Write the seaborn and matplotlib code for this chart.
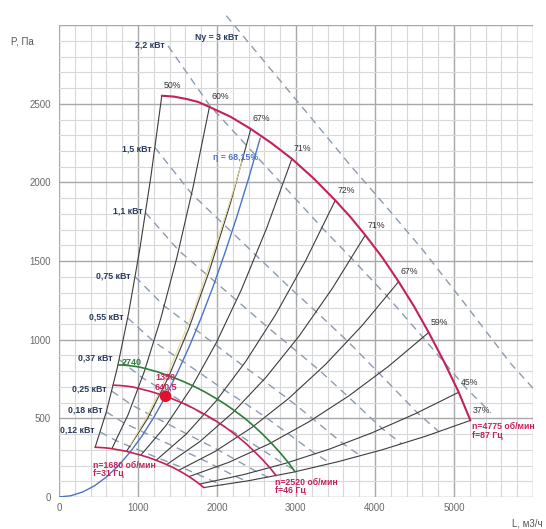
import matplotlib
matplotlib.use("Agg")
import matplotlib.pyplot as plt
import seaborn as sns

# ---------------- data ----------------
# max speed curve n=4775 rpm
q_max = [1302, 1450, 1618, 1760, 1905, 2170, 2429, 2690, 2949, 3225, 3498, 3690, 3878, 4095, 4300, 4495, 4681, 4875, 5061, 5209]
p_max = [2551, 2546, 2530, 2512, 2480, 2418, 2340, 2250, 2150, 2025, 1886, 1780, 1665, 1522, 1369, 1212, 1046, 860, 666, 487]
# min speed curve n=1680 rpm
q_min = [458, 510, 569, 619, 670, 763, 855, 946, 1037, 1135, 1231, 1298, 1364, 1441, 1513, 1581, 1647, 1715, 1780, 1833]
p_min = [316, 315, 313, 311, 307, 299, 290, 278, 266, 251, 233, 220, 206, 188, 169, 150, 129, 106, 82, 60]
# n=2520 rpm
q_2520 = [687, 765, 854, 929, 1005, 1145, 1282, 1420, 1556, 1702, 1846, 1947, 2047, 2161, 2269, 2372, 2470, 2573, 2671, 2749]
p_2520 = [711, 709, 705, 700, 691, 673, 652, 627, 599, 564, 525, 496, 464, 424, 381, 338, 291, 240, 185, 136]
# n=2740 rpm (green)
q_2740 = [747, 832, 928, 1010, 1093, 1245, 1394, 1544, 1692, 1851, 2007, 2117, 2225, 2350, 2467, 2579, 2686, 2797, 2904, 2989]
p_2740 = [840, 838, 833, 827, 817, 796, 770, 741, 708, 667, 621, 586, 548, 501, 451, 399, 344, 283, 219, 160]

# efficiency lines (from the n=1680 curve up to the n=4775 curve)
eff_labels = ["50%", "60%", "67%", "71%", "72%", "71%", "67%", "59%", "45%", "37%"]
eff_q = [
    [458, 599, 739, 880, 1021, 1161, 1302],
    [670, 876, 1082, 1288, 1493, 1699, 1905],
    [855, 1117, 1380, 1642, 1904, 2167, 2429],
    [1037, 1356, 1674, 1993, 2312, 2630, 2949],
    [1231, 1609, 1987, 2365, 2742, 3120, 3498],
    [1364, 1783, 2202, 2621, 3040, 3459, 3878],
    [1513, 1978, 2442, 2907, 3371, 3836, 4300],
    [1647, 2153, 2658, 3164, 3670, 4175, 4681],
    [1780, 2327, 2874, 3421, 3967, 4514, 5061],
    [1833, 2396, 2958, 3521, 4084, 4646, 5209],
]
eff_p = [
    [316, 540, 822, 1165, 1569, 2028, 2551],
    [307, 524, 800, 1133, 1523, 1973, 2480],
    [290, 495, 755, 1069, 1438, 1862, 2340],
    [266, 455, 693, 982, 1321, 1710, 2150],
    [234, 399, 609, 862, 1159, 1500, 1886],
    [206, 352, 537, 761, 1023, 1325, 1665],
    [169, 290, 442, 626, 841, 1089, 1369],
    [130, 221, 337, 478, 643, 832, 1046],
    [82, 141, 215, 304, 409, 530, 666],
    [60, 103, 157, 223, 299, 387, 487],
]

# system curve eta = 68,15 %
q_sys = [0, 150, 300, 450, 600, 750, 900, 1050, 1200, 1350, 1500, 1650, 1800, 1950, 2100, 2250, 2400, 2548]
p_sys = [0, 8, 32, 71, 127, 198, 285, 387, 506, 640, 791, 957, 1139, 1336, 1550, 1779, 2024, 2282]
# faint companion curve
q_sys2 = [900, 1090, 1280, 1490, 1700, 1880, 2050, 2190, 2319]
p_sys2 = [330, 490, 677, 920, 1180, 1440, 1700, 1920, 2133]

# power lines (dashed), crossing points with the efficiency lines
pw_labels = ["Ny = 3 кВт", "2,2 кВт", "1,5 кВт", "1,1 кВт", "0,75 кВт", "0,55 кВт",
             "0,37 кВт", "0,25 кВт", "0,18 кВт", "0,12 кВт"]
pw_label_q = [2269, 1343, 1179, 1065, 900, 811, 672, 608, 545, 456]
pw_label_p = [2924, 2873, 2215, 1816, 1405, 1146, 886, 684, 551, 424]
pw_q = [
    [2118, 2632, 3142, 3695, 4106, 4606, 5110, 5717, 6000],
    [1381, 1910, 2374, 2834, 3332, 3703, 4154, 4609, 5156, 5466],
    [1215, 1681, 2090, 2494, 2933, 3260, 3656, 4056, 4538, 4811],
    [1096, 1516, 1884, 2249, 2645, 2939, 3297, 3658, 4092, 4338],
    [964, 1334, 1659, 1979, 2328, 2587, 2902, 3220, 3602, 3818],
    [870, 1203, 1496, 1785, 2099, 2333, 2617, 2903, 3248, 3443],
    [762, 1054, 1311, 1564, 1839, 2044, 2293, 2544, 2846, 3017],
    [669, 925, 1150, 1373, 1614, 1794, 2012, 2232, 2498, 2647],
    [599, 829, 1031, 1230, 1447, 1608, 1803, 2001, 2239, 2373],
    [524, 724, 900, 1075, 1264, 1405, 1575, 1748, 1955, 2073],
]
pw_p = [
    [3060, 2749, 2441, 2105, 1867, 1571, 1247, 850, 692],
    [2868, 2488, 2235, 1984, 1711, 1518, 1277, 1014, 691, 536],
    [2222, 1927, 1731, 1537, 1326, 1176, 990, 785, 535, 415],
    [1807, 1567, 1408, 1250, 1078, 956, 805, 639, 435, 338],
    [1400, 1214, 1091, 969, 835, 741, 623, 495, 337, 262],
    [1138, 987, 887, 788, 679, 603, 507, 402, 274, 213],
    [874, 758, 681, 605, 521, 463, 389, 309, 211, 163],
    [673, 584, 524, 466, 402, 356, 300, 238, 162, 126],
    [541, 469, 421, 374, 323, 286, 241, 191, 130, 101],
    [413, 358, 321, 285, 246, 218, 184, 146, 99, 77],
]

op_q, op_p = 1350, 640.5

# ---------------- drawing ----------------
sns.set_theme(style="white")
plt.rcParams["font.family"] = ["Liberation Sans", "DejaVu Sans"]

fig = plt.figure(figsize=(5.46, 5.29), dpi=100)
ax = fig.add_axes([0.108, 0.0605, 0.868, 0.892])
ax.set_xlim(0, 6000)
ax.set_ylim(0, 3000)

ax.set_xticks(range(0, 6001, 1000))
ax.set_xticklabels(["0", "1000", "2000", "3000", "4000", "5000", ""])
ax.set_yticks(range(0, 3001, 500))
ax.set_yticklabels(["0", "500", "1000", "1500", "2000", "2500", ""])
ax.set_xticks(range(0, 6001, 200), minor=True)
ax.set_yticks(range(0, 3001, 100), minor=True)
ax.grid(which="minor", color="#d8d8d8", lw=0.8)
ax.grid(which="major", color="#a8a8a8", lw=1.0)
ax.set_axisbelow(True)
for s in ax.spines.values():
    s.set_visible(False)
ax.tick_params(which="both", length=0, labelsize=7, colors="#6a6a6a")
ax.tick_params(axis="x", pad=4)
ax.tick_params(axis="y", pad=6)

navy = "#2a3a5c"
crim = "#c4215c"
dash_col = "#8c9bb0"

# dashed power lines
for q, p in zip(pw_q, pw_p):
    sns.lineplot(x=q, y=p, sort=False, estimator=None, ax=ax, color=dash_col,
                 lw=1.0, linestyle=(0, (5.5, 4)))
for lab, q, p in zip(pw_labels, pw_label_q, pw_label_p):
    ax.text(q, p, lab, fontsize=6.3, fontweight="bold", color=navy, ha="right", va="center")
for ln in ax.lines:
    ln.set_clip_on(False)

# efficiency lines
for q, p in zip(eff_q, eff_p):
    sns.lineplot(x=q, y=p, sort=False, estimator=None, ax=ax, color="#3c3c3c", lw=0.8)
for lab, q, p in zip(eff_labels, eff_q, eff_p):
    ax.annotate(lab, (q[-1], p[-1]), xytext=(1.5, 4), textcoords="offset points",
                fontsize=6.3, color="#333333", ha="left", va="bottom")

# system curves
sns.lineplot(x=q_sys2, y=p_sys2, sort=False, estimator=None, ax=ax, color="#e6dc9a", lw=0.8)
sns.lineplot(x=q_sys, y=p_sys, sort=False, estimator=None, ax=ax, color="#4a74c9", lw=1.0)
ax.text(2230, 2160, "η = 68,15%", fontsize=6.3, fontweight="bold", color="#4a74c9",
        ha="center", va="center")

# speed curves
sns.lineplot(x=q_min, y=p_min, sort=False, estimator=None, ax=ax, color=crim, lw=1.2)
sns.lineplot(x=q_2520, y=p_2520, sort=False, estimator=None, ax=ax, color=crim, lw=1.2)
sns.lineplot(x=q_2740, y=p_2740, sort=False, estimator=None, ax=ax, color="#2e7d3a", lw=1.2)
sns.lineplot(x=q_max, y=p_max, sort=False, estimator=None, ax=ax, color=crim, lw=1.5)

# operating point
sns.scatterplot(x=[op_q], y=[op_p], ax=ax, color="#e0102e", s=70, edgecolor="none", zorder=5)
ax.text(1350, 760, "1350", fontsize=6.5, color=crim, ha="center", va="center", fontweight="bold")
ax.text(1350, 700, "640,5", fontsize=6.5, color=crim, ha="center", va="center", fontweight="bold")
ax.text(790, 855, "2740", fontsize=6.5, color="#2e7d3a", ha="left", va="center", fontweight="bold")

# speed labels
ax.text(430, 203, "n=1680 об/мин", fontsize=6.3, color=crim, fontweight="bold", ha="left", va="center")
ax.text(430, 150, "f=31 Гц", fontsize=6.3, color=crim, fontweight="bold", ha="left", va="center")
ax.text(2738, 95, "n=2520 об/мин", fontsize=6.3, color=crim, fontweight="bold", ha="left", va="center")
ax.text(2738, 44, "f=46 Гц", fontsize=6.3, color=crim, fontweight="bold", ha="left", va="center")
ax.text(5234, 449, "n=4775 об/мин", fontsize=6.3, color=crim, fontweight="bold", ha="left", va="center")
ax.text(5234, 392, "f=87 Гц", fontsize=6.3, color=crim, fontweight="bold", ha="left", va="center")

# axis titles
fig.text(22 / 546, 1 - 42 / 529, "P, Па", fontsize=7, color="#555555", ha="center", va="center")
fig.text(543 / 546, 1 - 524 / 529, "L, м3/ч", fontsize=7, color="#555555", ha="right", va="center")

ax.set_xlabel("")
ax.set_ylabel("")
fig.savefig("out.png", dpi=100)
